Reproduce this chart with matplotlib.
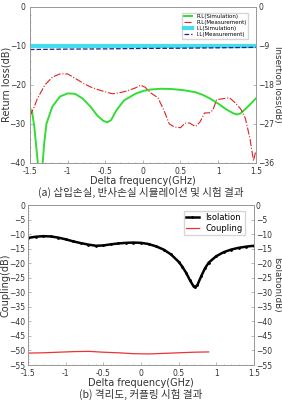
import matplotlib
matplotlib.use('Agg')
import matplotlib.pyplot as plt
import numpy as np

plt.rcParams['font.family'] = ['DejaVu Sans']

# (a) return loss / insertion loss
rl_sim_x = [-1.5, -1.47, -1.44, -1.41, -1.39, -1.37, -1.35, -1.33, -1.31, -1.28, -1.2, -1.1, -1.0, -0.9,
            -0.8, -0.7, -0.6, -0.52, -0.47, -0.42, -0.35, -0.25, -0.1, 0.0, 0.1, 0.25, 0.4, 0.55,
            0.7, 0.8, 0.9, 1.0, 1.1, 1.2, 1.25, 1.3, 1.4, 1.5]
rl_sim_y = [-26, -27, -31, -37, -41, -44, -43, -40, -35, -30, -25.5, -23, -22.2, -22.3,
            -23.5, -25.5, -28, -29.3, -29.6, -29, -26.5, -24, -22.3, -21.6, -21.2, -21.0, -21.1, -21.4,
            -21.9, -22.6, -23.6, -24.8, -26.2, -27.3, -27.6, -27.3, -25.5, -23.5]
rl_meas_x = [-1.5, -1.45, -1.4, -1.3, -1.2, -1.1, -1.0, -0.9, -0.8, -0.7, -0.6, -0.5, -0.4, -0.3,
             -0.2, -0.1, -0.03, 0.03, 0.1, 0.2, 0.28, 0.35, 0.42, 0.5, 0.56, 0.62, 0.7, 0.76,
             0.82, 0.88, 0.93, 0.98, 1.05, 1.15, 1.22, 1.3, 1.36, 1.42, 1.47, 1.5]
rl_meas_y = [-28, -26, -23.5, -20, -18, -17.2, -17.2, -18.3, -19.5, -20.5, -21.2, -21.8, -22.3, -22,
             -21.5, -20.8, -20.1, -20.6, -22, -23.3, -26.5, -30, -30.8, -31, -29.8, -29.8, -30.7, -29.5,
             -27.2, -27.2, -26.5, -23.8, -23.6, -23.3, -24.5, -26.2, -28.5, -33.5, -39.5, -37]
il_sim_x = [-1.5, 1.5]
il_sim_y = [-9.0, -9.0]
il_meas_x = [-1.5, -1.0, -0.5, 0.0, 0.5, 1.0, 1.5]
il_meas_y = [-9.85, -9.75, -9.7, -9.6, -9.55, -9.45, -9.35]

# (b) isolation / coupling
iso_x = [-1.5, -1.4, -1.3, -1.2, -1.1, -1.0, -0.9, -0.8, -0.7, -0.6, -0.5, -0.4, -0.3, -0.2, -0.1,
         0.0, 0.1, 0.2, 0.3, 0.4, 0.5, 0.55, 0.6, 0.65, 0.7, 0.72, 0.75, 0.8, 0.85, 0.9, 1.0,
         1.1, 1.2, 1.3, 1.4, 1.5]
iso_y = [-11.3, -10.9, -10.7, -10.8, -11.2, -11.8, -12.5, -13.1, -13.6, -14.0, -13.9, -13.5, -13.2, -13.0, -12.9,
         -13.0, -13.4, -14.2, -15.3, -17.0, -19.5, -21.2, -23.3, -25.8, -28.0, -28.3, -27.5, -24.5, -21.8, -19.8, -17.6,
         -16.2, -15.3, -14.7, -14.3, -14.0]
cpl_x = [-1.5, -1.3, -1.1, -0.9, -0.7, -0.5, -0.3, -0.1, 0.1, 0.3, 0.5, 0.7, 0.9]
cpl_y = [-50.9, -50.8, -50.6, -50.4, -50.3, -50.6, -50.8, -51.1, -51.2, -51.0, -50.8, -50.6, -50.5]

xticks = [-1.5, -1, -0.5, 0, 0.5, 1, 1.5]
xticklabels = ['-1.5', '-1', '-0.5', '0', '0.5', '1', '1.5']

fig = plt.figure(figsize=(2.82, 4.04), dpi=100)
fs = 5.5
lfs = 7
rfs = 6.3
spine_c = '#999999'
txt_c = '#333333'
kr = ['Noto Sans CJK KR', 'DejaVu Sans']


def style(ax, ypad):
    for s in ax.spines.values():
        s.set_color(spine_c)
        s.set_linewidth(0.6)
    ax.tick_params(labelsize=fs, length=2, width=0.5, color=spine_c, direction='in', labelcolor=txt_c)
    ax.tick_params(which='minor', length=1, width=0.4, color=spine_c, direction='in')
    ax.tick_params(axis='x', pad=3)
    ax.tick_params(axis='y', pad=ypad)


# ---- top
ax1 = fig.add_axes([0.106, 0.597, 0.801, 0.386])
ax1.plot(rl_sim_x, rl_sim_y, color='#33dd33', lw=1.4, label='R.L(Simulation)')
ax1.plot(rl_meas_x, rl_meas_y, color='#dd2222', lw=0.8, ls='-.', label='R.L(Measurement)')
ax1.set_xlim(-1.5, 1.5)
ax1.set_ylim(-40, 0)
ax1.set_yticks([0, -10, -20, -30, -40])
ax1.set_xticks(xticks)
ax1.set_xticklabels(xticklabels)
ax1.minorticks_on()
ax1.set_ylabel('Return loss(dB)', fontsize=lfs, va='center', color=txt_c)
ax1.yaxis.set_label_coords(-0.105, 0.5)
ax1.set_xlabel('Delta frequency(GHz)', fontsize=lfs, labelpad=0, color=txt_c)
style(ax1, 3)
ax1b = ax1.twinx()
ax1b.plot(il_sim_x, il_sim_y, color='#44ddee', lw=3, label='I.L(Simulation)')
ax1b.plot(il_meas_x, il_meas_y, color='#222288', lw=0.9, ls='--', label='I.L(Measurement)')
ax1b.set_ylim(-36, 0)
ax1b.set_yticks([0, -9, -18, -27, -36])
ax1b.set_ylabel('Insertion loss(dB)', fontsize=rfs, rotation=-90, va='center', color=txt_c)
ax1b.yaxis.set_label_coords(1.097, 0.5)
style(ax1b, 2)
h1, l1 = ax1.get_legend_handles_labels()
h2, l2 = ax1b.get_legend_handles_labels()
ax1b.legend(h1 + h2, l1 + l2, loc='upper right', fontsize=4, frameon=True, fancybox=False,
            edgecolor='#cccccc', handlelength=1.5, borderpad=0.3, labelspacing=0.15,
            bbox_to_anchor=(0.98, 0.98))
fig.text(0.5, 0.525, '(a) 삽입손실, 반사손실 시뮬레이션 및 시험 결과', ha='center', va='center',
         fontsize=7.6, family=kr, color=txt_c)

# ---- bottom
ax2 = fig.add_axes([0.1, 0.0965, 0.8, 0.396])
ax2.plot(iso_x, iso_y, color='black', lw=1.8, marker='.', markersize=2, label='Isolation')
ax2.plot(cpl_x, cpl_y, color='#ee3333', lw=0.9, label='Coupling')
ax2.set_xlim(-1.5, 1.5)
ax2.set_ylim(-55, 0)
ax2.set_yticks(np.arange(0, -56, -5))
ax2.set_xticks(xticks)
ax2.set_xticklabels(xticklabels)
ax2.minorticks_on()
ax2.set_ylabel('Coupling(dB)', fontsize=lfs, va='center', color=txt_c)
ax2.yaxis.set_label_coords(-0.1, 0.5)
ax2.set_xlabel('Delta frequency(GHz)', fontsize=lfs, labelpad=0, color=txt_c)
style(ax2, 2)
ax2b = ax2.twinx()
ax2b.set_ylim(-55, 0)
ax2b.set_yticks(np.arange(0, -56, -5))
ax2b.set_ylabel('Isolation(dB)', fontsize=rfs, rotation=-90, va='center', color=txt_c)
ax2b.yaxis.set_label_coords(1.1, 0.5)
style(ax2b, 1.5)
ax2.legend(loc='upper right', fontsize=6, frameon=True, fancybox=False, edgecolor='#cccccc',
           handlelength=1.5, borderpad=0.3, labelspacing=0.2, bbox_to_anchor=(0.98, 0.99))
fig.text(0.5, 0.025, '(b) 격리도, 커플링 시험 결과', ha='center', va='center',
         fontsize=7.6, family=kr, color=txt_c)

fig.savefig('out.png', dpi=100)
